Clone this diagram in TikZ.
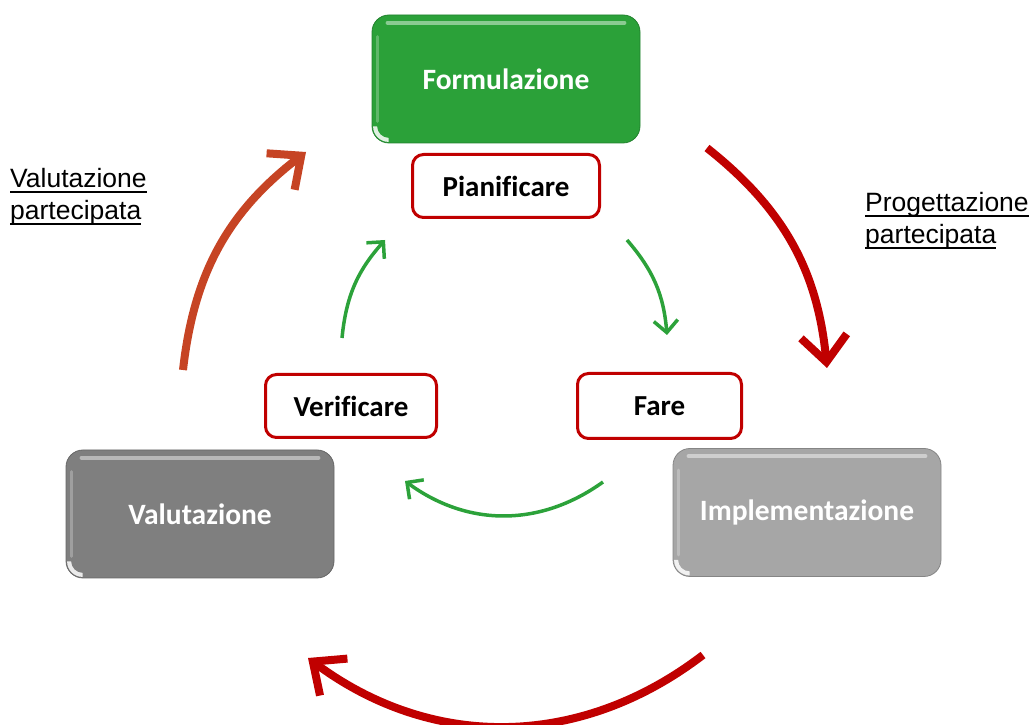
\documentclass[tikz,border=0pt]{standalone}
\usepackage{fontspec}
\setmainfont{Carlito}[Ligatures=NoCommon]
\newfontfamily\arialf{Liberation Sans}
\usetikzlibrary{arrows.meta,calc}
\definecolor{boxgreen}{RGB}{43,161,57}
\definecolor{gdark}{RGB}{127,127,127}
\definecolor{glight}{RGB}{166,166,166}
\definecolor{darkred}{RGB}{192,0,0}
\definecolor{orred}{RGB}{198,68,36}
\definecolor{arrgreen}{RGB}{44,162,58}
\newcommand\myul[1]{\setbox0\hbox{#1}\rlap{\rule[-0.2em]{\wd0}{0.07em}}\box0}
\newcommand\gloss[1]{%
  \draw[white,opacity=.45,line width=4pt,line cap=round] ($(#1.north west)+(16,-8)$) -- ($(#1.north east)+(-16,-8)$);
  \draw[white,opacity=.25,line width=3pt,line cap=round] ($(#1.north west)+(6,-22)$) -- ($(#1.south west)+(6,22)$);
  \fill[white,opacity=.85] ($(#1.south west)+(1.5,17)$) arc[start angle=180,end angle=270,radius=15.5pt] -- ++(0,4) arc[start angle=270,end angle=180,radius=11.5pt] -- cycle;
}
\begin{document}
\begin{tikzpicture}[x=1pt,y=1pt,
  bigbox/.style={rectangle,rounded corners=17pt,minimum width=268pt,minimum height=128pt,text=white,
    font=\fontsize{29.5}{33}\selectfont\bfseries,inner sep=0,draw=#1!80!black,line width=0.8pt,fill=#1},
  smallbox/.style={rectangle,rounded corners=11pt,draw=darkred,line width=3pt,fill=white,
    font=\fontsize{29}{33}\selectfont\bfseries,minimum height=63pt,inner sep=0},
  bigarrow/.style={line width=8pt,-{Straight Barb[length=26pt,width=46pt]}},
  smallarrow/.style={line width=3.5pt,arrgreen,-{Straight Barb[length=12pt,width=24pt]}},
  lab/.style={font=\arialf\fontsize{26.5}{31.5}\selectfont,align=left,inner sep=0}]
\useasboundingbox (0,0) rectangle (1034,725);

% big boxes
\node[bigbox=boxgreen] (form) at (506,646) {Formulazione};
\gloss{form}
\node[bigbox=gdark] (valu) at (200,211) {Valutazione};
\gloss{valu}
\node[bigbox=glight] (impl) at (807,212.5) {Implementazione};
\gloss{impl}

% small boxes
\node[smallbox,minimum width=187pt] (pian) at (506,539) {Pianificare};
\node[smallbox,minimum width=171pt] (veri) at (351,319) {Verificare};
\node[smallbox,minimum width=164pt,minimum height=65pt] (fare) at (659.5,319) {Fare};

% big arrows
\coordinate (r1s) at (707,577); \coordinate (r1e) at (827,357);
\draw[bigarrow,darkred] (r1s) to[bend left=23] (r1e);
\coordinate (r2s) at (703,70); \coordinate (r2e) at (308,67);
\draw[bigarrow,darkred] (r2s) to[bend left=37] (r2e);
\coordinate (r3s) at (183,355); \coordinate (r3e) at (306,573);
\draw[bigarrow,orred] (r3s) to[bend left=23] (r3e);

% green arrows
\coordinate (g1s) at (627,485); \coordinate (g1e) at (667,390);
\draw[smallarrow] (g1s) to[bend left=18] (g1e);
\coordinate (g2s) at (603,243); \coordinate (g2e) at (405,244);
\draw[smallarrow] (g2s) to[bend left=36] (g2e);
\coordinate (g3s) at (342,387); \coordinate (g3e) at (385,485);
\draw[smallarrow] (g3s) to[bend left=18] (g3e);

% labels
\node[lab,anchor=base west] (lv) at (10,505.5) {\myul{Valutazione}\\\myul{partecipata}};
\node[lab,anchor=base west] (lp) at (865,481.5) {\myul{Progettazione}\\\myul{partecipata}};
\end{tikzpicture}
\end{document}
